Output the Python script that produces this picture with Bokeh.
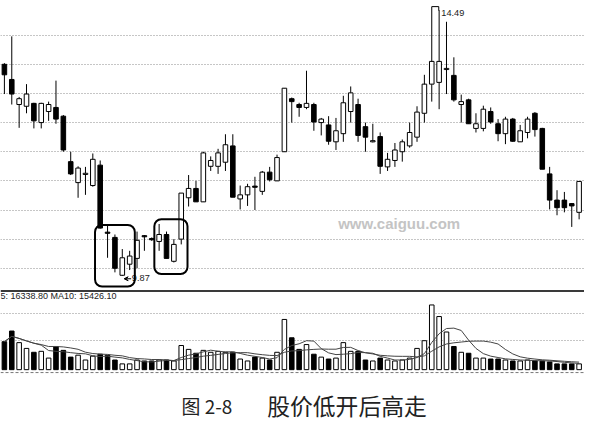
import numpy as np
import pandas as pd
from bokeh.plotting import figure
from bokeh.layouts import column
from bokeh.models import (ColumnDataSource, Range1d, Grid, FixedTicker, BoxAnnotation,
                          Span, Label, Arrow, VeeHead)
from bokeh.embed import file_html
from bokeh.resources import INLINE

# ---------------- data ----------------
opens = [13.50, 13.24, 12.81, 12.78, 12.83, 12.50, 12.69, 12.76, 12.61, 11.83,
         11.47, 11.61, 11.42, 11.77, 10.62, 10.53, 9.88, 10.07, 10.17, 10.56,
         10.51, 10.46, 10.58, 10.12, 10.50, 11.21, 11.37, 11.14, 11.75, 11.75,
         11.82, 12.10, 11.19, 11.26, 11.41, 11.32, 11.65, 11.50, 12.00, 12.91,
         12.81, 12.76, 12.81, 12.50, 12.46, 12.17, 12.31, 12.69, 12.81, 12.43,
         12.17, 12.26, 11.74, 11.85, 12.00, 12.10, 12.25, 12.66, 13.16, 13.19,
         13.41, 13.31, 12.81, 12.89, 12.40, 12.40, 12.69, 12.48, 12.31, 12.56,
         12.17, 12.33, 12.66, 12.40, 11.62, 11.17, 11.17, 11.11, 10.96]
highs = [13.52, 13.98, 12.94, 13.16, 12.84, 12.84, 12.86, 13.22, 12.63, 12.00,
         11.75, 11.74, 11.97, 11.85, 10.74, 10.58, 10.33, 10.30, 10.63, 10.57,
         10.53, 10.76, 10.63, 10.50, 11.29, 11.60, 11.50, 12.00, 11.92, 12.05,
         12.30, 12.30, 11.42, 11.45, 11.57, 11.67, 11.74, 11.95, 13.09, 12.93,
         12.84, 13.39, 12.84, 12.58, 12.61, 12.58, 12.96, 13.12, 12.91, 12.50,
         12.48, 12.33, 11.98, 12.15, 12.21, 12.50, 12.78, 13.32, 14.49, 14.43,
         14.23, 13.62, 12.98, 12.91, 12.66, 12.79, 12.76, 12.56, 12.60, 12.58,
         12.46, 12.60, 12.68, 12.41, 11.74, 11.34, 11.31, 11.12, 11.49]
lows = [12.99, 12.81, 12.41, 12.66, 12.40, 12.40, 12.53, 12.48, 12.00, 11.60,
        11.21, 11.26, 11.40, 10.68, 10.18, 9.93, 9.87, 9.97, 10.00, 10.30,
        10.47, 10.30, 10.17, 10.10, 10.41, 11.06, 11.14, 11.14, 11.67, 11.62,
        11.67, 11.22, 11.01, 11.07, 11.00, 11.26, 11.49, 11.50, 12.00, 12.50,
        12.60, 12.73, 12.36, 12.28, 12.12, 12.03, 12.17, 12.50, 12.17, 12.00,
        12.16, 11.62, 11.67, 11.74, 11.83, 12.07, 12.17, 12.50, 12.86, 12.73,
        12.99, 12.86, 12.50, 12.48, 12.33, 12.35, 12.48, 12.18, 12.13, 12.17,
        12.17, 12.23, 12.26, 11.70, 11.01, 10.91, 10.96, 10.71, 10.84]
closes = [13.32, 12.99, 12.91, 12.99, 12.53, 12.83, 12.81, 12.56, 12.03, 11.62,
          11.72, 11.63, 11.87, 10.69, 10.60, 10.00, 10.18, 10.21, 10.48, 10.54,
          10.49, 10.58, 10.17, 10.41, 11.29, 11.37, 11.14, 11.98, 11.85, 11.98,
          12.12, 11.22, 11.26, 11.40, 11.39, 11.65, 11.52, 11.90, 13.09, 12.86,
          12.76, 12.83, 12.51, 12.56, 12.18, 12.36, 12.84, 13.01, 12.28, 12.25,
          12.19, 11.75, 11.87, 12.03, 12.17, 12.33, 12.68, 13.16, 13.55, 13.55,
          13.43, 12.89, 12.86, 12.48, 12.48, 12.73, 12.51, 12.31, 12.56, 12.18,
          12.36, 12.56, 12.38, 11.70, 11.17, 11.04, 11.04, 11.07, 11.49]
volumes = [72500, 100000, 70000, 55000, 45000, 47500, 30000, 60000, 50000, 32500,
           37500, 25000, 35000, 40000, 37500, 25000, 15000, 15000, 25000, 22500,
           22500, 25000, 25000, 22500, 62500, 52500, 42500, 50000, 45000, 47500,
           45000, 45000, 27500, 22500, 32500, 30000, 25000, 45000, 130000, 82500,
           52500, 65000, 40000, 32500, 27500, 30000, 70000, 47500, 47500, 25000,
           22500, 30000, 25000, 22500, 25000, 30000, 55000, 75000, 167500, 137500,
           97500, 60000, 45000, 42500, 30000, 30000, 27500, 27500, 25000, 22500,
           22500, 25000, 22500, 22500, 20000, 15000, 15000, 15000, 15000]
price_grid = [10.0, 10.5, 11.0, 11.5, 12.0, 12.5, 13.0, 13.5, 14.0]
vol_grid = [75000, 145000]
vol_text = "5: 16338.80 MA10: 15426.10"
high_label = "14.49"
low_label = "9.87"
watermark = "www.caiguu.com"
caption_num = "图 2-8"
caption_title = "股价低开后高走"

# ---------------- layout constants ----------------
W = 584
H_PRICE = 289
H_VOL = 85
H_CAP = 427 - H_PRICE - H_VOL
FS = 0.97  # font scale

n = len(opens)
idx = np.arange(n)
o = np.array(opens); c = np.array(closes)
up = c >= o
src = ColumnDataSource(dict(
    x=idx, open=o, close=c, high=highs, low=lows,
    top=np.maximum(o, c), bottom=np.minimum(o, c),
    fill=["white" if u else "black" for u in up],
    vol=volumes,
))
vol_s = pd.Series(volumes, dtype=float)
ma5 = vol_s.rolling(5, min_periods=1).mean().values
ma10 = vol_s.rolling(10, min_periods=1).mean().values

x_rng = Range1d(-0.53, 78.73)

def base_fig(h, yr, xr):
    f = figure(width=W, height=h, x_range=xr, y_range=yr, output_backend="svg",
               toolbar_location=None, x_axis_location=None, y_axis_location=None,
               min_border=0, min_border_left=0, min_border_right=0,
               min_border_top=0, min_border_bottom=0, outline_line_color=None,
               background_fill_color="white", border_fill_color="white")
    f.xgrid.visible = False
    f.ygrid.visible = False
    return f

GRID_KW = dict(grid_line_color="#8c8c8c", grid_line_dash="1 2", grid_line_width=1)

# ---------------- price panel ----------------
p = base_fig(H_PRICE, Range1d(9.636, 14.595), x_rng)
p.add_layout(Grid(dimension=1, ticker=FixedTicker(ticks=price_grid), **GRID_KW))

p.add_layout(Label(x=45.3, y=10.76, text=watermark, text_font="Liberation Sans",
                   text_font_style="bold", text_font_size=f"{15.5*FS:.1f}px",
                   text_color="#c4c4c4", text_baseline="middle"))

p.segment(x0="x", y0="low", x1="x", y1="high", line_color="black", line_width=1, source=src)
p.vbar(x="x", width=0.62, top="top", bottom="bottom", fill_color="fill",
       line_color="black", line_width=1, source=src)

imax = int(np.argmax(highs))
imin = int(np.argmin(lows))
p.multi_line(xs=[[imax, imax + 0.95, imax + 0.95]],
             ys=[[highs[imax], highs[imax], highs[imax] - 0.07]],
             line_color="black", line_width=1)
p.add_layout(Label(x=imax + 1.3, y=highs[imax] - 0.11, text=high_label,
                   text_font="Liberation Sans", text_font_size=f"{9.5*FS:.1f}px",
                   text_color="#222222", text_baseline="middle"))
p.add_layout(Arrow(x_start=imin + 1.2, y_start=lows[imin] - 0.05, x_end=imin + 0.25,
                   y_end=lows[imin] - 0.05, line_color="black", line_width=1,
                   end=VeeHead(size=4, line_color="black", fill_color="black")))
p.add_layout(Label(x=imin + 1.3, y=lows[imin] - 0.04, text=low_label,
                   text_font="Liberation Sans", text_font_size=f"{9.5*FS:.1f}px",
                   text_color="#222222", text_baseline="middle"))

# highlight boxes
BOX_KW = dict(fill_color=None, fill_alpha=0, line_color="black", line_alpha=1.0,
              line_width=2, border_radius=7)
p.add_layout(BoxAnnotation(left=12.3, right=17.7, top=10.744, bottom=9.686, **BOX_KW))
p.add_layout(BoxAnnotation(left=20.35, right=24.85, top=10.843, bottom=9.90, **BOX_KW))

# ---------------- volume panel ----------------
v = base_fig(H_VOL, Range1d(-12500, 207500), x_rng)
v.add_layout(Grid(dimension=1, ticker=FixedTicker(ticks=vol_grid), **GRID_KW))
v.add_layout(Span(location=203500, dimension="width", line_color="#3a3a3a", line_width=2))
v.add_layout(Span(location=-7500, dimension="width", line_color="#777777",
                  line_width=1, line_dash="3 2"))
v.vbar(x="x", width=0.62, top="vol", bottom=0, fill_color="fill",
       line_color="black", line_width=1, source=src)
v.line(idx, ma10, line_color="#444444", line_width=1)
v.line(idx, ma5, line_color="#444444", line_width=1)
v.add_layout(Label(x=-0.53, y=190000, text=vol_text, text_font="Liberation Sans",
                   text_font_size=f"{9.3*FS:.1f}px", text_color="#222222",
                   text_baseline="middle"))

# ---------------- caption ----------------
cap = base_fig(H_CAP, Range1d(443, 388), Range1d(0, 600))
cap.add_layout(Label(x=212, y=420.5, text=caption_num, text_font="Noto Sans CJK SC",
                     text_font_size=f"{19.5*FS:.1f}px", text_color="#222222",
                     text_baseline="middle", text_align="center"))
cap.add_layout(Label(x=356, y=420.5, text=caption_title, text_font="Noto Sans CJK SC",
                     text_font_size=f"{23.5*FS:.1f}px", text_color="#222222",
                     text_baseline="middle", text_align="center"))

layout = column(p, v, cap, spacing=0)
open("out.html", "w").write(file_html(layout, INLINE))
